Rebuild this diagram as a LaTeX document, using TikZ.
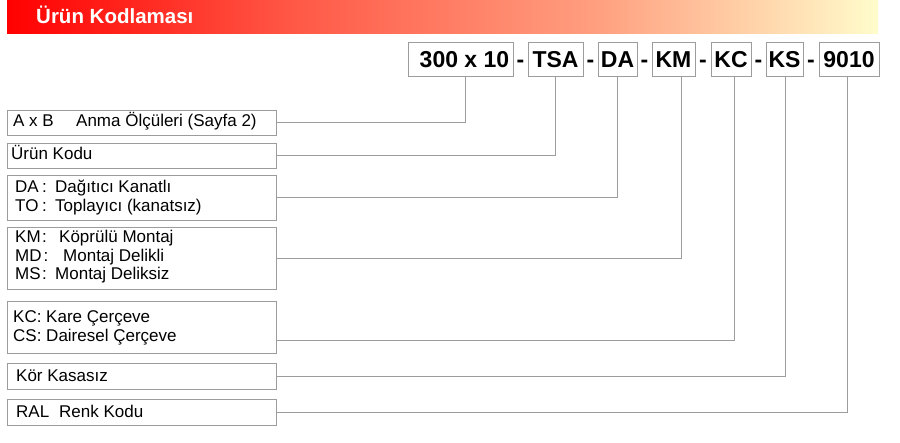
\documentclass[tikz,border=0pt]{standalone}
\usepackage{fontspec}
\setmainfont{Liberation Sans}
\definecolor{bgray}{HTML}{9C9C9C}
\definecolor{barA}{HTML}{FF0000}
\definecolor{barB}{HTML}{FF5A48}
\definecolor{barC}{HTML}{FFA080}
\definecolor{barD}{HTML}{FFFCCB}
\begin{document}
\begin{tikzpicture}[x=1pt,y=-1pt,
  lbox/.style={draw=bgray,line width=0.9pt,minimum width=269pt,inner sep=0pt},
  cbox/.style={draw=bgray,line width=0.9pt,minimum height=34pt,inner sep=0pt,
    font=\fontsize{23}{26}\selectfont\bfseries,text height=16.5pt,text depth=0pt},
  dsh/.style={inner sep=0pt,font=\fontsize{23}{26}\selectfont\bfseries,text height=16.5pt,text depth=0pt},
  ltxt/.style={anchor=base west,inner sep=0pt,font=\fontsize{17}{20}\selectfont},
  conn/.style={draw=bgray,line width=0.9pt}]
\useasboundingbox (0,0) rectangle (900,443);
\fill[white] (0,0) rectangle (900,443);
% title bar
\shade[left color=barA,right color=barB] (7,0) rectangle (300.5,34);
\shade[left color=barB,right color=barC] (300,0) rectangle (600.5,34);
\shade[left color=barC,right color=barD] (600,0) rectangle (878,34);
\node[anchor=base west,inner sep=0pt,text=white,font=\fontsize{20.5}{24}\selectfont\bfseries] (title) at (36,24) {Ürün Kodlaması};
% code boxes
\node[cbox,minimum width=105pt] (c1) at (460.5,59) {\hspace*{8pt}300 x 10};
\node[cbox,minimum width=55pt] (c2) at (555.5,59) {TSA};
\node[cbox,minimum width=39pt] (c3) at (617.5,59) {DA};
\node[cbox,minimum width=43pt] (c4) at (673.5,59) {KM};
\node[cbox,minimum width=40pt] (c5) at (731,59) {KC};
\node[cbox,minimum width=37pt] (c6) at (784.5,59) {KS};
\node[cbox,minimum width=60pt] (c7) at (849,59) {9010};
\node[dsh] (d1) at (520.5,59) {-};
\node[dsh] (d2) at (590.5,59) {-};
\node[dsh] (d3) at (644.5,59) {-};
\node[dsh] (d4) at (703,59) {-};
\node[dsh] (d5) at (758.5,59) {-};
\node[dsh] (d6) at (811,59) {-};
% left boxes
\node[lbox,minimum height=25pt] (l1) at (142,122.5) {};
\node[lbox,minimum height=25pt] (l2) at (142,155.5) {};
\node[lbox,minimum height=45pt] (l3) at (142,197.5) {};
\node[lbox,minimum height=62pt] (l4) at (142,258) {};
\node[lbox,minimum height=52pt] (l5) at (142,327) {};
\node[lbox,minimum height=26pt] (l6) at (142,376) {};
\node[lbox,minimum height=26pt] (l7) at (142,412) {};
% texts
\node[ltxt] (t1) at (13,127) {\makebox[63pt][l]{A x B}Anma Ölçüleri (Sayfa 2)};
\node[ltxt] (t2) at (11,160) {Ürün Kodu};
\node[ltxt] (t3a) at (15,193) {\makebox[27pt][l]{DA}\makebox[13pt][l]{:}Dağıtıcı Kanatlı};
\node[ltxt] (t3b) at (15,211.5) {\makebox[27pt][l]{TO}\makebox[13pt][l]{:}Toplayıcı (kanatsız)};
\node[ltxt] (t4a) at (15,243) {\makebox[27pt][l]{KM}\makebox[17pt][l]{:}Köprülü Montaj};
\node[ltxt] (t4b) at (15,261.5) {\makebox[28.5pt][l]{MD}\makebox[19.5pt][l]{:}Montaj Delikli};
\node[ltxt] (t4c) at (15,280) {\makebox[27pt][l]{MS}\makebox[13pt][l]{:}Montaj Deliksiz};
\node[ltxt] (t5a) at (13,323) {KC: Kare Çerçeve};
\node[ltxt] (t5b) at (13,342) {CS: Dairesel Çerçeve};
\node[ltxt] (t6) at (16,382) {Kör Kasasız};
\node[ltxt] (t7) at (16,418) {\makebox[43pt][l]{RAL}Renk Kodu};
% connectors
\draw[conn] (l1.east) -| ([xshift=4.5pt]c1.south);
\draw[conn] (l2.east) -| ([xshift=-0.5pt]c2.south);
\draw[conn] (l3.east) -| ([xshift=-0.5pt]c3.south);
\draw[conn] (l4.east) -| ([xshift=7.5pt]c4.south);
\draw[conn] ([yshift=-13pt]l5.east) -| ([xshift=3pt]c5.south);
\draw[conn] (l6.east) -| ([xshift=0.5pt]c6.south);
\draw[conn] (l7.east) -| ([xshift=-2pt]c7.south);
\end{tikzpicture}
\end{document}
